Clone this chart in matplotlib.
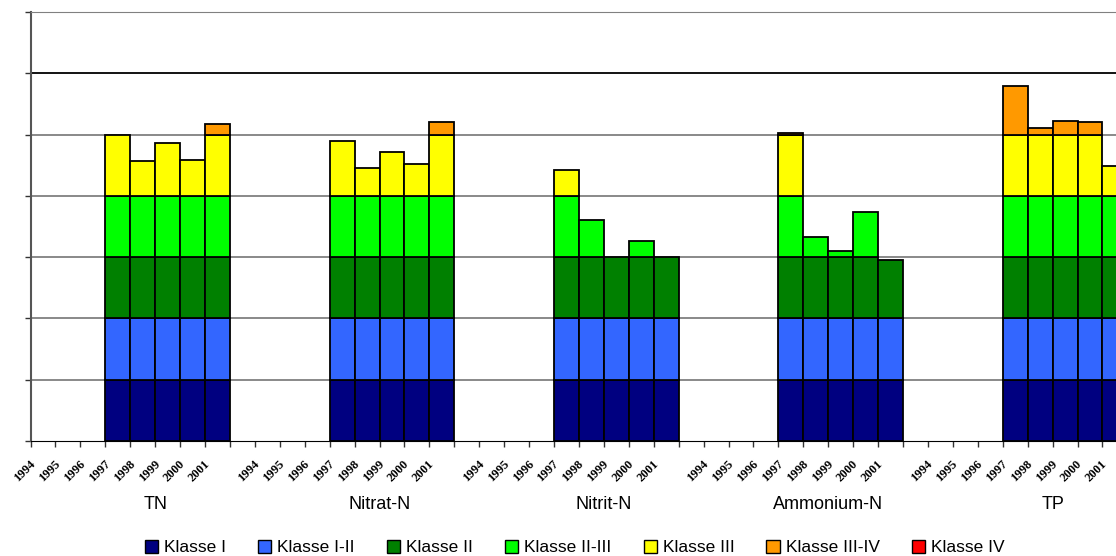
import numpy as np
import matplotlib
matplotlib.use('Agg')
import matplotlib.pyplot as plt
from matplotlib.patches import Patch

# data
groups = ['TN', 'Nitrat-N', 'Nitrit-N', 'Ammonium-N', 'TP']
years = ['1994', '1995', '1996', '1997', '1998', '1999', '2000', '2001']
data_years = ['1997', '1998', '1999', '2000', '2001']
tn = [5.0, 4.57, 4.86, 4.58, 5.17]
nitrat = [4.89, 4.46, 4.72, 4.52, 5.2]
nitrit = [4.42, 3.6, 3.0, 3.27, 3.0]
ammonium = [5.03, 3.33, 3.1, 3.73, 2.96]
tp = [5.79, 5.1, 5.22, 5.2, 4.49]
totals = [tn, nitrat, nitrit, ammonium, tp]

classes = ['Klasse I', 'Klasse I-II', 'Klasse II', 'Klasse II-III',
           'Klasse III', 'Klasse III-IV', 'Klasse IV']
colors = ['#000080', '#3366FF', '#008000', '#00FF00', '#FFFF00', '#FF9900', '#FF0000']

slots = len(years) + 1  # one empty slot between groups

fig = plt.figure(figsize=(11.16, 5.56), dpi=100)
W, H = 1116, 556
slot_px = 24.93
left = 30.5
ax = fig.add_axes([left / W, (H - 441) / H, slots * len(groups) * slot_px / W, 429 / H])

for g, vals in enumerate(totals):
    vals = np.array(vals)
    xs = np.array([g * slots + years.index(y) + 0.5 for y in data_years])
    bottom = np.zeros(len(vals))
    for k, c in enumerate(colors):
        h = np.clip(vals - k, 0, 1)
        mask = h > 0
        if mask.any():
            ax.bar(xs[mask], h[mask], bottom=bottom[mask], width=1.0,
                   color=c, edgecolor='black', linewidth=1.3, zorder=3)
        bottom = bottom + h

ax.set_xlim(0, slots * len(groups))
ax.set_ylim(0, 7)
for yv in range(1, 7):
    ax.axhline(yv, color='black' if yv == 6 else '#808080', lw=1.3, zorder=1)

ax.set_yticks(range(8))
ax.set_yticklabels([])
ax.set_xticks(range(slots * len(groups) + 1))
ax.set_xticklabels([])
ax.tick_params(axis='both', direction='out', length=4, width=1, color='#333333')
ax.spines['right'].set_visible(False)
ax.spines['top'].set_color('#808080')
ax.spines['left'].set_color('#555555')
ax.spines['left'].set_linewidth(1.5)
ax.spines['bottom'].set_color('black')

# year labels and group names
for g, name in enumerate(groups):
    for i, y in enumerate(years):
        ax.text(g * slots + i - 0.05, -0.27, y, rotation=45, ha='right', va='top',
                rotation_mode='anchor', fontsize=9, fontweight='bold',
                family='Liberation Serif', transform=ax.transData)
    ax.text(g * slots + 5.0, -1.04, name, ha='center', va='center',
            fontsize=13, family='Liberation Sans')

handles = [Patch(facecolor=c, edgecolor='black', label=l) for c, l in zip(colors, classes)]
fig.legend(handles=handles, loc='center', bbox_to_anchor=(0.515, 0.015), ncol=7,
           frameon=False, prop={'family': 'Liberation Sans', 'size': 12.5},
           handlelength=0.75, handleheight=0.75, handletextpad=0.35, columnspacing=1.85)

fig.savefig('out.png', dpi=100)
